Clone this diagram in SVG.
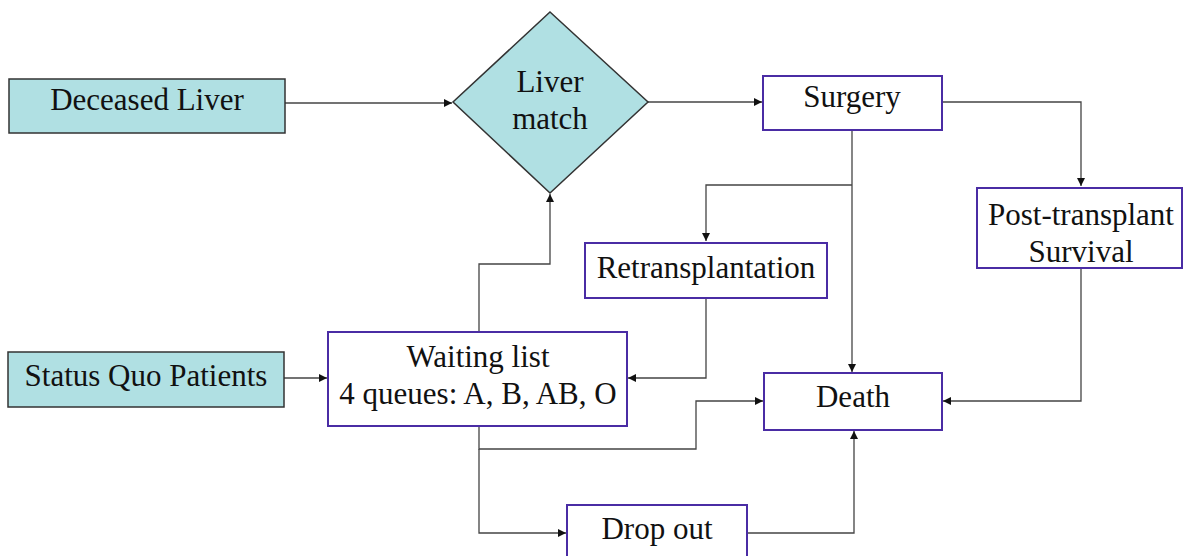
<svg xmlns="http://www.w3.org/2000/svg" width="1184" height="556" viewBox="0 0 1184 556">
<defs>
<style>
.teal{fill:#b0e0e3;stroke:#333333;stroke-width:1.5}
.box{fill:#ffffff;stroke:#4a2ca4;stroke-width:2}
.t{font-family:"Liberation Serif","Times New Roman",serif;font-size:31px;fill:#111111;text-anchor:middle}
.c{fill:none;stroke:#444444;stroke-width:1.3}
</style>
<marker id="ah" viewBox="0 0 10 10" refX="10" refY="5" markerWidth="8" markerHeight="8" markerUnits="userSpaceOnUse" orient="auto">
<path d="M0,0 L10,5 L0,10 z" fill="#111111"/>
</marker>
</defs>
<rect width="1184" height="556" fill="#ffffff"/>
<g id="connectors">
<path class="c" d="M285,103 H452" marker-end="url(#ah)"/>
<path class="c" d="M648,102 H762" marker-end="url(#ah)"/>
<path class="c" d="M942,102 H1081 V186" marker-end="url(#ah)"/>
<path class="c" d="M852,130 V372" marker-end="url(#ah)"/>
<path class="c" d="M852,185 H706 V241" marker-end="url(#ah)"/>
<path class="c" d="M706,298 V378 H628" marker-end="url(#ah)"/>
<path class="c" d="M1081,268 V401 H943" marker-end="url(#ah)"/>
<path class="c" d="M479,332 V264 H550 V194" marker-end="url(#ah)"/>
<path class="c" d="M284,378 H327" marker-end="url(#ah)"/>
<path class="c" d="M479,426 V449 H696 V401 H763" marker-end="url(#ah)"/>
<path class="c" d="M479,449 V533 H566" marker-end="url(#ah)"/>
<path class="c" d="M747,533 H854 V431" marker-end="url(#ah)"/>
</g>
<g id="deceased-liver">
<rect class="teal" x="9" y="79" width="276" height="54"/>
<text class="t" x="147" y="110">Deceased Liver</text>
</g>
<g id="liver-match">
<polygon class="teal" points="550,12 648,102 550,193 453,102"/>
<text class="t" x="550" y="92">Liver</text>
<text class="t" x="550" y="129">match</text>
</g>
<g id="surgery">
<rect class="box" x="763" y="76" width="179" height="54"/>
<text class="t" x="852" y="107">Surgery</text>
</g>
<g id="post-transplant">
<rect class="box" x="977" y="188" width="205" height="80"/>
<text class="t" x="1081" y="225">Post-transplant</text>
<text class="t" x="1081" y="262">Survival</text>
</g>
<g id="retransplantation">
<rect class="box" x="585" y="243" width="242" height="55"/>
<text class="t" x="706" y="278">Retransplantation</text>
</g>
<g id="status-quo">
<rect class="teal" x="8" y="352" width="276" height="55"/>
<text class="t" x="146" y="386">Status Quo Patients</text>
</g>
<g id="waiting-list">
<rect class="box" x="328" y="332" width="299" height="94"/>
<text class="t" x="478" y="367">Waiting list</text>
<text class="t" x="478" y="404">4 queues: A, B, AB, O</text>
</g>
<g id="death">
<rect class="box" x="764" y="373" width="178" height="57"/>
<text class="t" x="853" y="407">Death</text>
</g>
<g id="drop-out">
<rect class="box" x="567" y="505" width="180" height="60"/>
<text class="t" x="657" y="539">Drop out</text>
</g>
</svg>
